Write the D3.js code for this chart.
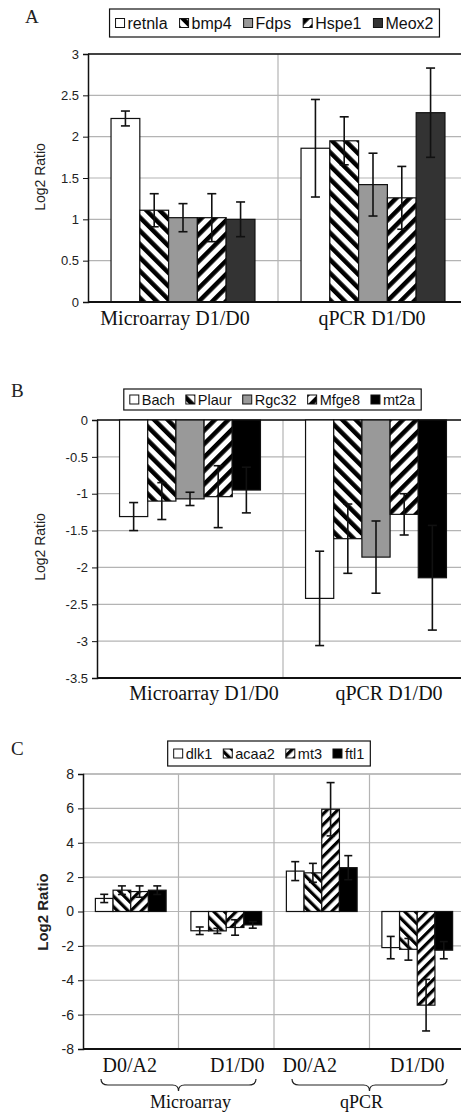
<!DOCTYPE html>
<html>
<head>
<meta charset="utf-8">
<script src="https://cdn.jsdelivr.net/npm/d3@7"></script>
<style>
  body { margin: 0; background: #fff; }
  svg { display: block; }
</style>
</head>
<body>
<div id="chart"></div>
<script>
// ---- data ----

// Panel A
const aCategories = ["Microarray D1/D0", "qPCR D1/D0"];
const aGenes = ["retnla", "bmp4", "Fdps", "Hspe1", "Meox2"];
const aValues = [[2.22, 1.11, 1.02, 1.02, 1.00], [1.86, 1.95, 1.42, 1.26, 2.29]];
const aErrors = [[0.09, 0.20, 0.17, 0.29, 0.21], [0.59, 0.29, 0.38, 0.38, 0.54]];
const aTicks = [0, 0.5, 1, 1.5, 2, 2.5, 3];
const aTickLabels = ["0", "0.5", "1", "1.5", "2", "2.5", "3"];

// Panel B
const bCategories = ["Microarray D1/D0", "qPCR D1/D0"];
const bGenes = ["Bach", "Plaur", "Rgc32", "Mfge8", "mt2a"];
const bValues = [[-1.31, -1.10, -1.07, -1.04, -0.95], [-2.42, -1.61, -1.86, -1.28, -2.14]];
const bErrors = [[0.19, 0.25, 0.09, 0.42, 0.31], [0.64, 0.47, 0.49, 0.28, 0.71]];
const bTicks = [0, -0.5, -1, -1.5, -2, -2.5, -3, -3.5];
const bTickLabels = ["0", "-0.5", "-1", "-1.5", "-2", "-2.5", "-3", "-3.5"];

// Panel C
const cCategories = ["D0/A2", "D1/D0", "D0/A2", "D1/D0"];
const cGroups = ["Microarray", "qPCR"];
const cGenes = ["dlk1", "acaa2", "mt3", "ftl1"];
const cValues = [[0.76, 1.24, 1.16, 1.24], [-1.12, -1.13, -0.93, -0.78],
                 [2.35, 2.25, 5.95, 2.55], [-2.1, -2.2, -5.45, -2.25]];
const cErrors = [[0.24, 0.25, 0.33, 0.25], [0.22, 0.15, 0.45, 0.19],
                 [0.55, 0.55, 1.55, 0.7], [0.65, 0.63, 1.5, 0.5]];
const cTicks = [8, 6, 4, 2, 0, -2, -4, -6, -8];
const cTickLabels = ["8", "6", "4", "2", "0", "-2", "-4", "-6", "-8"];

// ---- drawing ----
const svg = d3.select("#chart").append("svg")
    .attr("width", 461)
    .attr("height", 1113);

const defs = svg.append("defs");

// diagonal stripe fills
function stripes(id, angle, size, band) {
  const p = defs.append("pattern")
    .attr("id", id)
    .attr("patternUnits", "userSpaceOnUse")
    .attr("width", size)
    .attr("height", size)
    .attr("patternTransform", `rotate(${angle})`);
  p.append("rect").attr("width", size).attr("height", size).attr("fill", "#fff");
  p.append("rect").attr("width", band).attr("height", size).attr("fill", "#000");
}
stripes("backBig", -45, 9.5, 4.5);
stripes("fwdBig", 45, 9.5, 4.5);
stripes("backSmall", -45, 7.5, 3.2);
stripes("fwdSmall", 45, 7.5, 3.2);

const sans = "Liberation Sans, Arial, sans-serif";
const serif = "Liberation Serif, Times New Roman, serif";

const panels = [
  {
    letter: "A", letterPos: [25, 23],
    cats: aCategories, genes: aGenes, values: aValues, errors: aErrors,
    ticks: aTicks, tickLabels: aTickLabels, domain: [0, 3],
    left: 88, right: 468, top: 54, bottom: 302, outer: 0.8, cap: 9,
    fills: ["#fff", "url(#backBig)", "#999", "url(#fwdBig)", "#333"],
    topLine: "#111",
    legend: {cx: 274.5, y: 9, h: 28, size: 16, gap: 12},
    tickSize: 13, yTitle: {x: 40, y: 177, size: 14, weight: "normal"},
    catLabelY: 325, catLabelSize: 20, catShift: [-8, -1]
  },
  {
    letter: "B", letterPos: [11, 397],
    cats: bCategories, genes: bGenes, values: bValues, errors: bErrors,
    ticks: bTicks, tickLabels: bTickLabels, domain: [-3.5, 0],
    left: 97, right: 469, top: 420, bottom: 678, outer: 0.8, cap: 9,
    fills: ["#fff", "url(#backBig)", "#999", "url(#fwdBig)", "#000"],
    topLine: "#111",
    legend: {cx: 272.5, y: 389, h: 21, size: 14.5, gap: 11},
    tickSize: 13, yTitle: {x: 40, y: 547, size: 14, weight: "normal"},
    catLabelY: 700, catLabelSize: 20, catShift: [14, 13]
  },
  {
    letter: "C", letterPos: [11, 755],
    cats: cCategories, genes: cGenes, values: cValues, errors: cErrors,
    ticks: cTicks, tickLabels: cTickLabels, domain: [-8, 8],
    left: 83, right: 465, top: 774, bottom: 1049, outer: 0.7, cap: 8,
    fills: ["#fff", "url(#backSmall)", "url(#fwdSmall)", "#000"],
    topLine: "#b4b4b4",
    legend: {cx: 269, y: 741, h: 25, size: 14.5, gap: 11},
    tickSize: 14, yTitle: {x: 43, y: 912, size: 15, weight: "bold"},
    catLabelY: 1072, catLabelSize: 20, catShift: [-1, 11, -12, 0],
    groups: cGroups, groupLabelY: 1108
  }
];

panels.forEach(drawPanel);

function drawPanel(p) {
  const g = svg.append("g");

  const y = d3.scaleLinear()
    .domain(p.domain)
    .range([p.bottom, p.top]);

  const x0 = d3.scaleBand()
    .domain(d3.range(p.cats.length))
    .range([p.left, p.right]);

  const x1 = d3.scaleBand()
    .domain(p.genes)
    .range([0, x0.bandwidth()])
    .paddingInner(0)
    .paddingOuter(p.outer);

  // horizontal gridlines
  g.append("g")
    .selectAll("line")
    .data(p.ticks)
    .join("line")
      .attr("x1", p.left).attr("x2", p.right)
      .attr("y1", d => y(d)).attr("y2", d => y(d))
      .attr("stroke", "#b4b4b4")
      .attr("stroke-width", 1.2);

  // vertical separators between categories
  g.append("g")
    .selectAll("line")
    .data(d3.range(1, p.cats.length + 1))
    .join("line")
      .attr("x1", d => x0(d) ?? p.right).attr("x2", d => x0(d) ?? p.right)
      .attr("y1", p.top).attr("y2", p.bottom)
      .attr("stroke", "#b4b4b4")
      .attr("stroke-width", 1.2);

  // top border
  g.append("line")
    .attr("x1", p.left).attr("x2", p.right)
    .attr("y1", p.top).attr("y2", p.top)
    .attr("stroke", p.topLine)
    .attr("stroke-width", 1.5);

  // bars
  const rows = [];
  p.values.forEach((vals, ci) => vals.forEach((v, gi) => {
    rows.push({ci, gi, gene: p.genes[gi], v, e: p.errors[ci][gi]});
  }));

  g.append("g")
    .selectAll("rect")
    .data(rows)
    .join("rect")
      .attr("x", d => x0(d.ci) + x1(d.gene))
      .attr("width", x1.bandwidth())
      .attr("y", d => Math.min(y(d.v), y(0)))
      .attr("height", d => Math.abs(y(d.v) - y(0)))
      .attr("fill", d => p.fills[d.gi])
      .attr("stroke", "#111")
      .attr("stroke-width", 1.2);

  // error bars
  const eb = g.append("g")
    .attr("stroke", "#111")
    .attr("stroke-width", 1.6)
    .selectAll("g")
    .data(rows)
    .join("g")
      .attr("transform", d => `translate(${x0(d.ci) + x1(d.gene) + x1.bandwidth() / 2},0)`);
  eb.append("line")
    .attr("y1", d => y(d.v + d.e)).attr("y2", d => y(d.v - d.e));
  eb.append("line")
    .attr("x1", -p.cap / 2).attr("x2", p.cap / 2)
    .attr("y1", d => y(d.v + d.e)).attr("y2", d => y(d.v + d.e));
  eb.append("line")
    .attr("x1", -p.cap / 2).attr("x2", p.cap / 2)
    .attr("y1", d => y(d.v - d.e)).attr("y2", d => y(d.v - d.e));

  // y axis
  const yAxis = g.append("g")
    .attr("transform", `translate(${p.left},0)`)
    .call(d3.axisLeft(y)
      .tickValues(p.ticks)
      .tickSize(5)
      .tickFormat((d, i) => p.tickLabels[i]));
  yAxis.select(".domain").attr("stroke", "#111").attr("stroke-width", 1.5);
  yAxis.selectAll(".tick line").attr("stroke", "#111");
  yAxis.selectAll(".tick text")
    .attr("font-family", sans)
    .attr("font-size", p.tickSize)
    .attr("fill", "#222")
    .attr("x", -9);

  // bottom axis line
  g.append("line")
    .attr("x1", p.left).attr("x2", p.right)
    .attr("y1", p.bottom).attr("y2", p.bottom)
    .attr("stroke", "#111")
    .attr("stroke-width", 2);

  // y title
  g.append("text")
    .attr("transform", `translate(${p.yTitle.x},${p.yTitle.y}) rotate(-90)`)
    .attr("text-anchor", "middle")
    .attr("dy", "0.35em")
    .attr("font-family", sans)
    .attr("font-size", p.yTitle.size)
    .attr("font-weight", p.yTitle.weight)
    .attr("fill", "#222")
    .text("Log2 Ratio");

  // category labels
  g.append("g")
    .selectAll("text")
    .data(p.cats)
    .join("text")
      .attr("x", (d, i) => x0(i) + x0.bandwidth() / 2 + p.catShift[i])
      .attr("y", p.catLabelY)
      .attr("text-anchor", "middle")
      .attr("font-family", serif)
      .attr("font-size", p.catLabelSize)
      .attr("fill", "#111")
      .text(d => d);

  // group braces + labels (panel C)
  if (p.groups) {
    const per = p.cats.length / p.groups.length;
    const inset = 18, top = p.catLabelY + 7;
    p.groups.forEach((name, k) => {
      const xa = x0(k * per) + inset;
      const xb = (x0((k + 1) * per) ?? p.right) - inset;
      const xm = (xa + xb) / 2;
      const path = d3.path();
      path.moveTo(xa, top);
      path.quadraticCurveTo(xa, top + 6, xa + 7, top + 6);
      path.lineTo(xm - 6, top + 6);
      path.quadraticCurveTo(xm, top + 6, xm, top + 12);
      path.quadraticCurveTo(xm, top + 6, xm + 6, top + 6);
      path.lineTo(xb - 7, top + 6);
      path.quadraticCurveTo(xb, top + 6, xb, top);
      g.append("path")
        .attr("d", path.toString())
        .attr("fill", "none")
        .attr("stroke", "#222")
        .attr("stroke-width", 1.2);
      g.append("text")
        .attr("x", xm + (k === 0 ? 12 : -8))
        .attr("y", p.groupLabelY)
        .attr("text-anchor", "middle")
        .attr("font-family", serif)
        .attr("font-size", 18)
        .attr("fill", "#111")
        .text(name);
    });
  }

  // panel letter
  g.append("text")
    .attr("x", p.letterPos[0])
    .attr("y", p.letterPos[1])
    .attr("font-family", serif)
    .attr("font-size", 19)
    .attr("fill", "#222")
    .text(p.letter);

  // legend
  const lg = g.append("g");
  const box = lg.append("rect")
    .attr("y", p.legend.y)
    .attr("height", p.legend.h)
    .attr("fill", "#fff")
    .attr("stroke", "#111")
    .attr("stroke-width", 1.2);
  const sw = 9, gap = 3, itemGap = p.legend.gap, pad = 6;
  let cursor = 0;
  const items = lg.selectAll("g.item")
    .data(p.genes)
    .join("g")
      .attr("class", "item");
  items.append("rect")
    .attr("width", sw).attr("height", sw)
    .attr("y", p.legend.y + (p.legend.h - sw) / 2)
    .attr("fill", (d, i) => p.fills[i])
    .attr("stroke", "#111")
    .attr("stroke-width", 1);
  items.append("text")
    .attr("y", p.legend.y + p.legend.h / 2)
    .attr("dy", "0.36em")
    .attr("font-family", sans)
    .attr("font-size", p.legend.size)
    .attr("fill", "#111")
    .text(d => d);
  const offsets = [];
  items.each(function() {
    const w = d3.select(this).select("text").node().getComputedTextLength();
    offsets.push(cursor);
    cursor += sw + gap + w + itemGap;
  });
  const total = cursor - itemGap;
  const startX = p.legend.cx - total / 2;
  items.each(function(d, i) {
    const it = d3.select(this);
    it.select("rect").attr("x", startX + offsets[i]);
    it.select("text").attr("x", startX + offsets[i] + sw + gap);
  });
  box.attr("x", startX - pad).attr("width", total + pad * 2);
}
</script>
</body>
</html>
